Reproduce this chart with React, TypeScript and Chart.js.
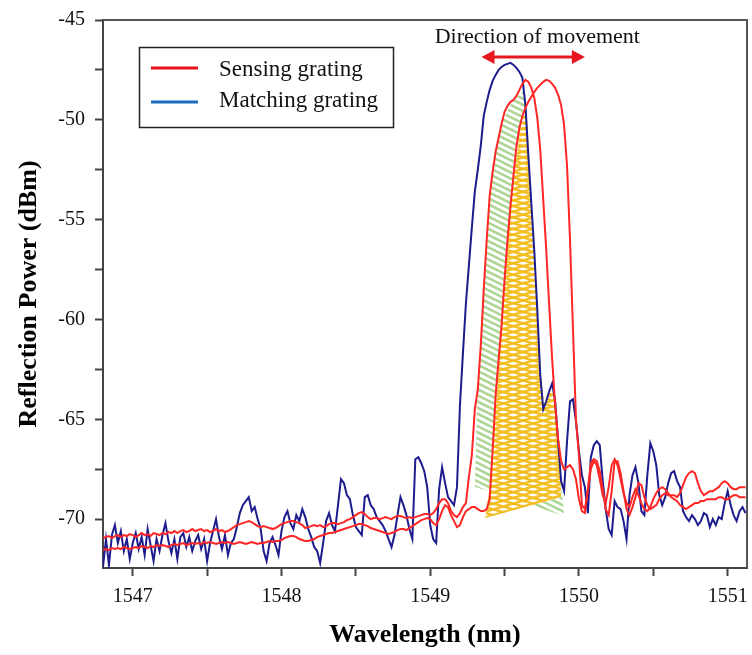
import React, { useEffect, useRef } from "react";
import { Chart, registerables } from "chart.js";

Chart.register(...registerables);

// Sampling grid of the spectrum analyser (nm): 1546.80 .. 1551.12, 0.02 nm step
const GRID_START = 1546.8;
const GRID_STEP = 0.02;
const WAVELENGTH: number[] = Array.from({ length: 217 }, (_, i) =>
  Number((GRID_START + i * GRID_STEP).toFixed(2))
);

// Matching grating (dBm)
const MATCHING: number[] = [
  -72.4, -71.0, -72.3, -70.8, -70.3, -71.2, -70.6, -71.6, -71.0, -72.0,
  -71.2, -70.7, -71.5, -70.9, -71.8, -70.5, -71.3, -72.1, -71.0, -71.6,
  -70.8, -70.2, -71.1, -71.7, -71.0, -72.0, -70.9, -70.7, -71.4, -70.9,
  -71.6, -71.1, -70.8, -71.5, -71.0, -72.1, -71.2, -70.6, -70.0, -70.9,
  -71.5, -70.8, -71.8, -71.2, -71.0, -70.4, -69.7, -69.3, -69.1, -68.9,
  -69.6, -69.4, -70.0, -70.5, -71.6, -72.1, -71.2, -70.9, -71.3, -71.8,
  -70.6, -69.9, -69.6, -70.2, -70.5, -69.8, -70.1, -69.5, -69.9, -70.5,
  -70.9, -71.4, -71.6, -72.2, -71.2, -70.1, -69.7, -70.3, -70.6, -69.3,
  -68.0, -68.2, -68.8, -69.0, -69.8, -70.4, -70.6, -70.8, -68.9, -68.8,
  -69.3, -69.5, -69.9, -70.1, -70.3, -70.6, -71.0, -71.4, -70.8, -69.8,
  -68.9, -69.3, -69.8, -70.5, -71.0, -67.0, -66.9, -67.2, -67.6, -68.4,
  -70.3, -71.0, -71.2, -68.5, -67.4, -68.2, -68.9, -69.1, -69.3, -68.4,
  -64.3, -61.7, -59.2, -57.3, -55.4, -53.6, -52.5, -51.3, -49.8, -49.1,
  -48.5, -48.05, -47.75, -47.5, -47.35, -47.25, -47.2, -47.15, -47.25, -47.4,
  -47.6, -47.9, -49.25, -51.8, -54.2, -56.6, -59.5, -62.8, -64.5, -64.1,
  -63.6, -63.2, -64.1, -66.1, -68.1, -68.6, -66.1, -64.1, -64.0, -65.1,
  -66.6, -67.8, -68.4, -69.7, -66.9, -66.3, -66.1, -66.3, -68.1, -69.5,
  -70.5, -70.8, -69.1, -69.4, -69.5, -70.1, -71.0, -68.8, -67.8, -67.4,
  -68.2, -69.6, -69.8, -67.8, -66.2, -66.6, -67.3, -68.8, -69.3, -68.9,
  -68.2, -67.7, -67.6, -68.1, -68.4, -69.6, -69.9, -70.1, -69.8, -70.0,
  -70.3, -70.1, -69.7, -69.8, -70.4, -70.0, -70.3, -69.9, -70.0, -69.2,
  -68.6, -69.3, -69.8, -70.1, -69.6, -69.4, -69.7,
];

// Sensing grating, first position (dBm)
const SENSING_A: number[] = [
  -70.95, -70.9, -70.85, -70.95, -70.85, -70.8, -70.9, -70.8, -70.85, -70.75,
  -70.8, -70.9, -70.8, -70.7, -70.8, -70.75, -70.85, -70.7, -70.75, -70.8,
  -70.7, -70.75, -70.65, -70.7, -70.6, -70.7, -70.6, -70.55, -70.65, -70.6,
  -70.5, -70.6, -70.55, -70.5, -70.6, -70.55, -70.65, -70.6, -70.5, -70.6,
  -70.55, -70.65, -70.6, -70.5, -70.4, -70.3, -70.25, -70.2, -70.15, -70.1,
  -70.15, -70.25, -70.35, -70.4, -70.35, -70.4, -70.45, -70.5, -70.45, -70.35,
  -70.25, -70.2, -70.15, -70.1, -70.1, -70.15, -70.2, -70.3, -70.45, -70.4,
  -70.35, -70.3, -70.35, -70.3, -70.4, -70.35, -70.25, -70.2, -70.2, -70.25,
  -70.2, -70.15, -70.05, -70.0, -69.9, -69.8, -69.7, -69.65, -69.75, -69.9,
  -70.0, -69.95, -69.95, -70.0, -69.95, -69.9, -69.95, -70.0, -69.9, -69.85,
  -69.85, -69.9, -69.95, -69.9, -69.95, -69.9, -69.85, -69.8, -69.75, -69.75,
  -69.8, -69.7, -69.5, -69.2, -69.0, -69.0, -69.2, -69.6, -69.8, -69.9,
  -69.7, -69.4, -69.2, -67.9, -66.8, -64.5, -63.5, -61.3, -58.5, -56.0,
  -53.8, -52.6, -51.6, -50.9, -50.2, -49.6, -49.3, -49.1, -49.0, -48.8,
  -48.5, -48.2, -48.0, -48.1, -48.4, -48.9, -49.9, -51.5, -54.0, -56.5,
  -59.3, -62.0, -64.3, -66.0, -67.1, -67.5, -67.4, -67.3, -67.5, -68.0,
  -69.0, -69.6, -69.7, -68.5, -67.2, -67.0, -67.1, -67.6, -68.5, -69.5,
  -69.8, -68.6, -67.1, -67.1, -67.7, -68.6, -69.5, -69.8, -69.4, -68.9,
  -68.2, -68.3, -68.9, -69.3, -69.5, -69.4, -69.3, -69.0, -68.8, -68.7,
  -68.8, -68.8, -68.8, -68.9, -68.7, -68.3, -67.9, -67.7, -67.6, -67.7,
  -68.2, -68.6, -68.8, -68.7, -68.6, -68.6, -68.5, -68.4, -68.2, -68.1,
  -68.2, -68.4, -68.5, -68.5, -68.4, -68.4, -68.4,
];

// Sensing grating, second position (dBm)
const SENSING_B: number[] = [
  -71.55, -71.5, -71.55, -71.45, -71.5, -71.45, -71.5, -71.4, -71.45, -71.5,
  -71.45, -71.4, -71.45, -71.35, -71.4, -71.45, -71.35, -71.4, -71.3, -71.35,
  -71.3, -71.35, -71.4, -71.3, -71.25, -71.3, -71.25, -71.2, -71.3, -71.25,
  -71.2, -71.25, -71.2, -71.25, -71.15, -71.2, -71.15, -71.2, -71.25, -71.2,
  -71.15, -71.2, -71.15, -71.2, -71.25, -71.2, -71.15, -71.2, -71.25, -71.2,
  -71.15, -71.2, -71.25, -71.2, -71.2, -71.15, -71.1, -71.15, -71.1, -71.1,
  -71.05, -70.95, -70.9, -70.85, -70.85, -70.9, -71.0, -71.05, -71.1, -71.1,
  -71.05, -71.0, -70.9, -70.85, -70.8, -70.75, -70.7, -70.7, -70.65, -70.6,
  -70.55, -70.5, -70.45, -70.4, -70.35, -70.3, -70.25, -70.25, -70.3, -70.35,
  -70.45, -70.5, -70.55, -70.6, -70.65, -70.7, -70.75, -70.7, -70.65, -70.55,
  -70.5, -70.5, -70.55, -70.45, -70.35, -70.25, -70.15, -70.05, -70.0, -69.95,
  -70.0, -70.2, -70.3, -70.0, -69.6, -69.3, -69.4, -69.8, -70.1, -70.4,
  -70.3, -69.9, -69.6, -69.5, -69.4, -69.4, -69.5, -69.6, -69.6, -69.5,
  -69.0, -66.5, -63.8, -62.0, -60.3, -58.0, -56.0, -54.3, -52.8, -51.3,
  -50.4, -49.8, -49.4, -49.1, -48.85, -48.6, -48.4, -48.25, -48.1, -48.0,
  -48.05, -48.2, -48.4, -48.75, -49.25, -50.25, -52.3, -56.0, -60.5, -65.0,
  -66.8, -69.3, -69.5, -68.6, -67.5, -67.1, -67.3, -68.0, -68.8, -69.2,
  -68.4, -67.3, -67.0, -67.3, -68.0, -68.7, -69.2, -69.4, -68.9, -68.5,
  -68.8, -69.2, -69.5, -69.6, -69.4, -69.0, -68.7, -68.5, -68.4, -68.5,
  -68.7, -68.9, -69.0, -69.1, -69.3, -69.4, -69.5, -69.4, -69.3, -69.2,
  -69.2, -69.1, -69.1, -69.0, -69.0, -69.0, -69.0, -68.9, -68.9, -69.0,
  -69.0, -68.9, -68.8, -68.8, -68.9, -68.9, -68.9,
];

const X_TICKS = [1547, 1547.5, 1548, 1548.5, 1549, 1549.5, 1550, 1550.5, 1551];
const Y_TICKS = [-70, -67.5, -65, -62.5, -60, -57.5, -55, -52.5, -50, -47.5, -45];

// Hatched overlap regions (wavelength nm, power dBm)
const GREEN_HATCH_X = [
  1549.3, 1549.316, 1549.343, 1549.37, 1549.397, 1549.444, 1549.491, 1549.544,
  1549.591, 1549.632, 1549.645, 1549.679, 1549.706, 1549.726, 1549.746, 1549.766,
  1549.806, 1549.847, 1549.867, 1549.88, 1549.901,
];
const GREEN_HATCH_Y = [
  -68.38, -64.03, -60.67, -57.37, -54.01, -51.51, -50.01, -49.21,
  -48.81, -48.51, -49.51, -54.01, -57.37, -60.67, -62.93, -64.28,
  -63.53, -63.93, -66.03, -68.03, -69.84,
];
const YELLOW_HATCH_X = [
  1549.37, 1549.397, 1549.423, 1549.45, 1549.477, 1549.511, 1549.544, 1549.578,
  1549.605, 1549.632, 1549.652, 1549.679, 1549.706, 1549.726, 1549.746, 1549.766,
  1549.806, 1549.833, 1549.853, 1549.874, 1549.88,
];
const YELLOW_HATCH_Y = [
  -69.94, -68.54, -66.03, -63.53, -60.67, -57.37, -54.01, -52.01,
  -50.51, -49.61, -50.01, -54.01, -57.37, -60.67, -62.93, -64.28,
  -63.53, -63.63, -65.28, -67.03, -68.89,
];

const ANNOT_TEXT = "Direction of movement";
const ANNOT_TEXT_POS = { x: 1549.72, y: -45.85 };
const ARROW_FROM = 1549.345;
const ARROW_TO = 1550.04;
const ARROW_Y = -46.85;

const SERIF = '"Liberation Serif", "Times New Roman", serif';
const RED = "#ff2626";
const NAVY = "#1c1c8e";

function hatchPolygon(
  ctx: CanvasRenderingContext2D,
  pts: number[][],
  color: string,
  angles: number[],
  spacing: number,
  width: number,
  bg?: string
) {
  ctx.save();
  ctx.beginPath();
  pts.forEach(([x, y], i) => (i ? ctx.lineTo(x, y) : ctx.moveTo(x, y)));
  ctx.closePath();
  if (bg) {
    ctx.fillStyle = bg;
    ctx.fill();
  }
  ctx.clip();
  const xs = pts.map((p) => p[0]);
  const ys = pts.map((p) => p[1]);
  const minX = Math.min(...xs), maxX = Math.max(...xs);
  const minY = Math.min(...ys), maxY = Math.max(...ys);
  const cx = (minX + maxX) / 2, cy = (minY + maxY) / 2;
  const R = Math.hypot(maxX - minX, maxY - minY) / 2 + spacing;
  ctx.strokeStyle = color;
  ctx.lineWidth = width;
  for (const a of angles) {
    const dx = Math.cos(a), dy = Math.sin(a);
    const nx = -dy, ny = dx;
    ctx.beginPath();
    for (let d = -R; d <= R; d += spacing) {
      const px = cx + nx * d, py = cy + ny * d;
      ctx.moveTo(px - dx * R, py - dy * R);
      ctx.lineTo(px + dx * R, py + dy * R);
    }
    ctx.stroke();
  }
  ctx.restore();
}

const decorPlugin = {
  id: "decor",
  beforeDatasetsDraw(chart: any) {
    const { ctx, scales, chartArea } = chart;
    const xs = scales.x, ys = scales.y;
    ctx.save();
    ctx.beginPath();
    ctx.rect(chartArea.left, chartArea.top, chartArea.right - chartArea.left, chartArea.bottom - chartArea.top);
    ctx.clip();
    const green = GREEN_HATCH_X.map((v, i) => [xs.getPixelForValue(v), ys.getPixelForValue(GREEN_HATCH_Y[i])]);
    const yellow = YELLOW_HATCH_X.map((v, i) => [xs.getPixelForValue(v), ys.getPixelForValue(YELLOW_HATCH_Y[i])]);
    hatchPolygon(ctx, green, "rgba(145, 200, 115, 0.75)", [0.46], 5.5, 2.6);
    hatchPolygon(ctx, yellow, "rgba(242, 188, 25, 0.95)", [0.28, -0.28], 5.5, 2.4, "#ffffff");
    ctx.restore();
  },
  afterDraw(chart: any) {
    const { ctx, scales, chartArea } = chart;
    const xs = scales.x, ys = scales.y;
    ctx.save();
    // frame (top & right)
    ctx.strokeStyle = "#555";
    ctx.lineWidth = 2;
    ctx.beginPath();
    ctx.moveTo(chartArea.left, chartArea.top);
    ctx.lineTo(chartArea.right, chartArea.top);
    ctx.lineTo(chartArea.right, chartArea.bottom);
    ctx.stroke();

    // legend
    ctx.strokeStyle = "#222";
    ctx.lineWidth = 1.5;
    ctx.strokeRect(139.5, 47.5, 254, 80);
    ctx.lineWidth = 3;
    ctx.strokeStyle = "#e8101a";
    ctx.beginPath();
    ctx.moveTo(151, 68);
    ctx.lineTo(198, 68);
    ctx.stroke();
    ctx.strokeStyle = "#1a6ebe";
    ctx.beginPath();
    ctx.moveTo(151, 102);
    ctx.lineTo(198, 102);
    ctx.stroke();
    ctx.fillStyle = "#111";
    ctx.font = `23px ${SERIF}`;
    ctx.textAlign = "left";
    ctx.textBaseline = "middle";
    ctx.fillText("Sensing grating", 219, 70);
    ctx.fillText("Matching grating", 219, 101);

    // direction annotation
    ctx.font = `22px ${SERIF}`;
    ctx.textAlign = "center";
    ctx.fillStyle = "#111";
    ctx.fillText(ANNOT_TEXT, xs.getPixelForValue(ANNOT_TEXT_POS.x), ys.getPixelForValue(ANNOT_TEXT_POS.y));
    const ax0 = xs.getPixelForValue(ARROW_FROM);
    const ax1 = xs.getPixelForValue(ARROW_TO);
    const ay = ys.getPixelForValue(ARROW_Y);
    const head = 13, hh = 7;
    ctx.strokeStyle = "#e8161e";
    ctx.fillStyle = "#e8161e";
    ctx.lineWidth = 3;
    ctx.beginPath();
    ctx.moveTo(ax0 + head - 1, ay);
    ctx.lineTo(ax1 - head + 1, ay);
    ctx.stroke();
    ctx.beginPath();
    ctx.moveTo(ax0, ay);
    ctx.lineTo(ax0 + head, ay - hh);
    ctx.lineTo(ax0 + head, ay + hh);
    ctx.closePath();
    ctx.fill();
    ctx.beginPath();
    ctx.moveTo(ax1, ay);
    ctx.lineTo(ax1 - head, ay - hh);
    ctx.lineTo(ax1 - head, ay + hh);
    ctx.closePath();
    ctx.fill();
    ctx.restore();
  },
};

function toPoints(vals: number[]) {
  return vals.map((y, i) => ({ x: WAVELENGTH[i], y }));
}

export default function App() {
  const ref = useRef<HTMLCanvasElement>(null);
  useEffect(() => {
    if (!ref.current) return;
    const chart = new Chart(ref.current, {
      type: "line",
      data: {
        datasets: [
          {
            label: "Sensing grating",
            data: toPoints(SENSING_A),
            borderColor: RED,
            borderWidth: 2,
            pointRadius: 0,
            tension: 0,
          },
          {
            label: "Sensing grating (shifted)",
            data: toPoints(SENSING_B),
            borderColor: RED,
            borderWidth: 2,
            pointRadius: 0,
            tension: 0,
          },
          {
            label: "Matching grating",
            data: toPoints(MATCHING),
            borderColor: NAVY,
            borderWidth: 2,
            pointRadius: 0,
            tension: 0,
          },
        ],
      },
      options: {
        animation: false,
        responsive: false,
        devicePixelRatio: 1,
        layout: { padding: { top: 20, right: 5, left: 0, bottom: 0 } },
        plugins: { legend: { display: false }, tooltip: { enabled: false } },
        scales: {
          x: {
            type: "linear",
            min: 1546.8,
            max: 1551.13,
            afterBuildTicks: (s: any) => {
              s.ticks = X_TICKS.map((v) => ({ value: v }));
            },
            afterFit: (s: any) => {
              s.height = 87;
              s.paddingLeft = 0;
              s.paddingRight = 0;
            },
            ticks: {
              autoSkip: false,
              maxRotation: 0,
              padding: 9,
              color: "#111",
              font: { family: SERIF, size: 20 },
              callback: (v: any) => (Number.isInteger(Number(v)) ? String(v) : ""),
            },
            grid: { drawOnChartArea: false, drawTicks: true, tickLength: 8, tickColor: "#444", tickWidth: 2 },
            border: { display: true, color: "#444", width: 2 },
            title: {
              display: true,
              text: "Wavelength (nm)",
              color: "#000",
              font: { family: SERIF, size: 26, weight: "bold" },
              padding: { top: 0, bottom: 4 },
            },
          },
          y: {
            type: "linear",
            min: -72.45,
            max: -45,
            afterBuildTicks: (s: any) => {
              s.ticks = Y_TICKS.map((v) => ({ value: v }));
            },
            afterFit: (s: any) => {
              s.width = 103;
              s.paddingTop = 0;
              s.paddingBottom = 0;
            },
            ticks: {
              autoSkip: false,
              padding: 10,
              color: "#111",
              font: { family: SERIF, size: 20 },
              callback: (v: any) => (Number(v) % 5 === 0 ? String(v) : ""),
            },
            grid: { drawOnChartArea: false, drawTicks: true, tickLength: 8, tickColor: "#444", tickWidth: 2 },
            border: { display: true, color: "#444", width: 2 },
            title: {
              display: true,
              text: "Reflection Power (dBm)",
              color: "#000",
              font: { family: SERIF, size: 26, weight: "bold" },
              padding: { top: 14, bottom: 0 },
            },
          },
        },
      },
      plugins: [decorPlugin],
    } as any);
    return () => chart.destroy();
  }, []);

  return (
    <div style={{ position: "absolute", left: 0, top: 0, width: 752, height: 655, background: "#fff" }}>
      <canvas ref={ref} width={752} height={655} style={{ display: "block" }} />
    </div>
  );
}
